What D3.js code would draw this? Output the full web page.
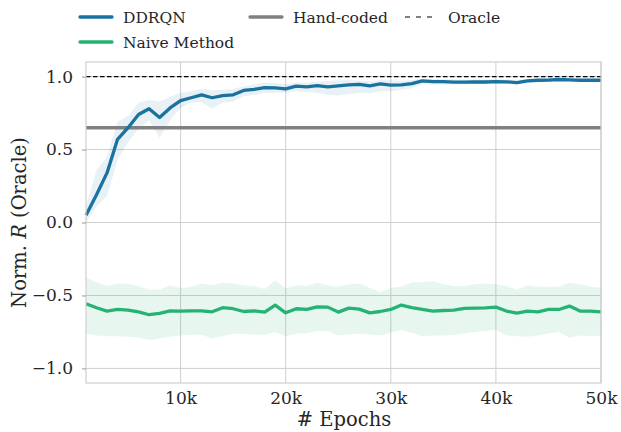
<!DOCTYPE html>
<html><head><meta charset="utf-8">
<script src="https://cdn.jsdelivr.net/npm/d3@7/dist/d3.min.js"></script>
<style>body{margin:0;background:#fff}svg{display:block}text{font-family:"DejaVu Serif",serif;fill:#262626}</style>
</head><body><svg id="c" width="621" height="432"></svg>
<script>
const epochs = d3.range(1, 51).map(k => k * 1000);
const ddrqnMean = [0.05,0.19,0.34,0.57,0.65,0.74,0.78,0.72,0.785,0.835,0.855,0.875,0.855,0.87,0.875,0.905,0.913,0.925,0.922,0.916,
  0.934,0.93,0.938,0.93,0.936,0.943,0.947,0.936,0.95,0.942,0.943,0.952,0.97,0.966,0.966,0.962,0.962,0.964,0.963,0.966,
  0.964,0.959,0.97,0.975,0.976,0.98,0.977,0.975,0.975,0.975];
const ddrqnLow = [0.0,0.11,0.18,0.43,0.55,0.64,0.70,0.58,0.70,0.785,0.82,0.824,0.78,0.82,0.83,0.865,0.875,0.888,0.89,0.89,
  0.9,0.895,0.89,0.875,0.87,0.88,0.89,0.885,0.9,0.9,0.91,0.92,0.95,0.945,0.945,0.945,0.945,0.95,0.95,0.952,
  0.952,0.945,0.958,0.965,0.968,0.972,0.97,0.968,0.968,0.968];
const ddrqnHigh = [0.11,0.36,0.45,0.69,0.73,0.82,0.84,0.83,0.86,0.89,0.9,0.916,0.906,0.91,0.915,0.934,0.945,0.957,0.955,0.95,
  0.957,0.96,0.965,0.97,0.975,0.975,0.972,0.97,0.975,0.975,0.972,0.975,0.985,0.982,0.982,0.978,0.978,0.978,0.978,0.98,
  0.978,0.972,0.982,0.985,0.985,0.988,0.985,0.982,0.982,0.982];
const naiveMean = [-0.557,-0.584,-0.607,-0.596,-0.60,-0.612,-0.632,-0.623,-0.605,-0.607,-0.605,-0.605,-0.612,-0.584,-0.591,-0.61,-0.605,-0.614,-0.566,-0.619,
  -0.591,-0.596,-0.578,-0.58,-0.614,-0.587,-0.594,-0.619,-0.61,-0.596,-0.566,-0.584,-0.596,-0.607,-0.603,-0.601,-0.589,-0.587,-0.585,-0.58,
  -0.607,-0.621,-0.607,-0.612,-0.596,-0.596,-0.573,-0.607,-0.607,-0.612];
const naiveLow = [-0.76,-0.774,-0.779,-0.779,-0.783,-0.79,-0.806,-0.795,-0.783,-0.774,-0.77,-0.77,-0.795,-0.779,-0.76,-0.765,-0.77,-0.77,-0.751,-0.779,
  -0.76,-0.76,-0.744,-0.744,-0.774,-0.767,-0.76,-0.767,-0.774,-0.756,-0.737,-0.756,-0.779,-0.774,-0.774,-0.77,-0.76,-0.751,-0.744,-0.737,
  -0.774,-0.779,-0.783,-0.774,-0.76,-0.751,-0.79,-0.774,-0.779,-0.774];
const naiveHigh = [-0.379,-0.41,-0.436,-0.418,-0.42,-0.436,-0.459,-0.459,-0.43,-0.45,-0.44,-0.42,-0.43,-0.413,-0.418,-0.43,-0.436,-0.456,-0.395,-0.45,
  -0.43,-0.436,-0.413,-0.43,-0.44,-0.424,-0.418,-0.447,-0.477,-0.447,-0.44,-0.409,-0.409,-0.402,-0.424,-0.436,-0.436,-0.424,-0.418,-0.424,
  -0.436,-0.459,-0.43,-0.44,-0.44,-0.44,-0.413,-0.424,-0.44,-0.447];
const handCoded = 0.65;
const oracle = 1.0;
const xTicks = [10000,20000,30000,40000,50000];
const xTickLabels = ["10k","20k","30k","40k","50k"];
const yTicks = [-1.0,-0.5,0.0,0.5,1.0];

const svg = d3.select("#c");
const L = 86, R = 601, T = 62, B = 383;
const x = d3.scaleLinear().domain([1000, 50000]).range([L, R]);
const y = d3.scaleLinear().domain([-1.1, 1.1]).range([B, T]);
const blue = "#19729f", green = "#25b374", gray = "#808080";

// grid
const g = svg.append("g");
g.selectAll(".gx").data(xTicks).join("line").attr("x1", d => x(d)).attr("x2", d => x(d))
  .attr("y1", T).attr("y2", B).attr("stroke", "#cfcfcf").attr("stroke-width", 1);
g.selectAll(".gy").data(yTicks).join("line").attr("y1", d => y(d)).attr("y2", d => y(d))
  .attr("x1", L).attr("x2", R).attr("stroke", "#cfcfcf").attr("stroke-width", 1);

const area = (lo, hi) => d3.area().x((d, i) => x(epochs[i])).y0((d, i) => y(lo[i])).y1((d, i) => y(hi[i]));
const line = m => d3.line().x((d, i) => x(epochs[i])).y((d, i) => y(m[i]));

svg.append("path").datum(epochs).attr("d", area(naiveLow, naiveHigh)).attr("fill", green).attr("fill-opacity", 0.11);
svg.append("path").datum(epochs).attr("d", area(ddrqnLow, ddrqnHigh)).attr("fill", blue).attr("fill-opacity", 0.1);

svg.append("line").attr("x1", L).attr("x2", R).attr("y1", y(handCoded)).attr("y2", y(handCoded))
  .attr("stroke", gray).attr("stroke-width", 3.5);
svg.append("line").attr("x1", L).attr("x2", R).attr("y1", y(oracle)).attr("y2", y(oracle))
  .attr("stroke", "#000").attr("stroke-width", 1.2).attr("stroke-dasharray", "4.5,2.5");

svg.append("path").datum(epochs).attr("d", line(naiveMean)).attr("fill", "none").attr("stroke", green).attr("stroke-width", 3.3).attr("stroke-linejoin", "round");
svg.append("path").datum(epochs).attr("d", line(ddrqnMean)).attr("fill", "none").attr("stroke", blue).attr("stroke-width", 3.3).attr("stroke-linejoin", "round");

// frame
svg.append("rect").attr("x", L).attr("y", T).attr("width", R - L).attr("height", B - T)
  .attr("fill", "none").attr("stroke", "#cfcfcf").attr("stroke-width", 1.2);

// axes
const xa = svg.append("g").attr("transform", `translate(0,${B})`)
  .call(d3.axisBottom(x).tickValues(xTicks).tickFormat((d, i) => xTickLabels[i]).tickSize(0).tickPadding(9));
xa.select(".domain").remove();
xa.selectAll("text").attr("font-size", 17).style("font-family", "DejaVu Serif");
const ya = svg.append("g").attr("transform", `translate(${L},0)`)
  .call(d3.axisLeft(y).tickValues(yTicks).tickFormat(d => d3.format(".1f")(d).replace("-", "\u2212")).tickSize(4).tickPadding(9));
ya.select(".domain").remove();
ya.selectAll("line").attr("stroke", "#999");
ya.selectAll("text").attr("font-size", 17).style("font-family", "DejaVu Serif");

svg.append("text").attr("x", 344).attr("y", 426).attr("text-anchor", "middle").attr("font-size", 19.5).text("# Epochs");
const yl = svg.append("text").attr("transform", `translate(26,${(T + B) / 2}) rotate(-90)`).attr("text-anchor", "middle").attr("font-size", 19.5);
yl.append("tspan").text("Norm. ");
yl.append("tspan").attr("font-style", "italic").text("R");
yl.append("tspan").text(" (Oracle)");

// legend
const leg = [
  {name: "DDRQN", c: blue, lx: 80, ty: 17, w: 3.3},
  {name: "Naive Method", c: green, lx: 80, ty: 42, w: 3.3},
  {name: "Hand-coded", c: gray, lx: 250, ty: 17, w: 3.3},
  {name: "Oracle", c: "#000", lx: 405, ty: 17, w: 1.2, dash: "5,6"}
];
leg.forEach(d => {
  svg.append("line").attr("x1", d.lx).attr("x2", d.lx + 32).attr("y1", d.ty).attr("y2", d.ty)
    .attr("stroke", d.c).attr("stroke-width", d.w).attr("stroke-dasharray", d.dash || null).attr("stroke-linecap", d.dash ? "butt" : "round");
  svg.append("text").attr("x", d.lx + 43).attr("y", d.ty + 5.5).attr("font-size", 15.5).text(d.name);
});
</script></body></html>
